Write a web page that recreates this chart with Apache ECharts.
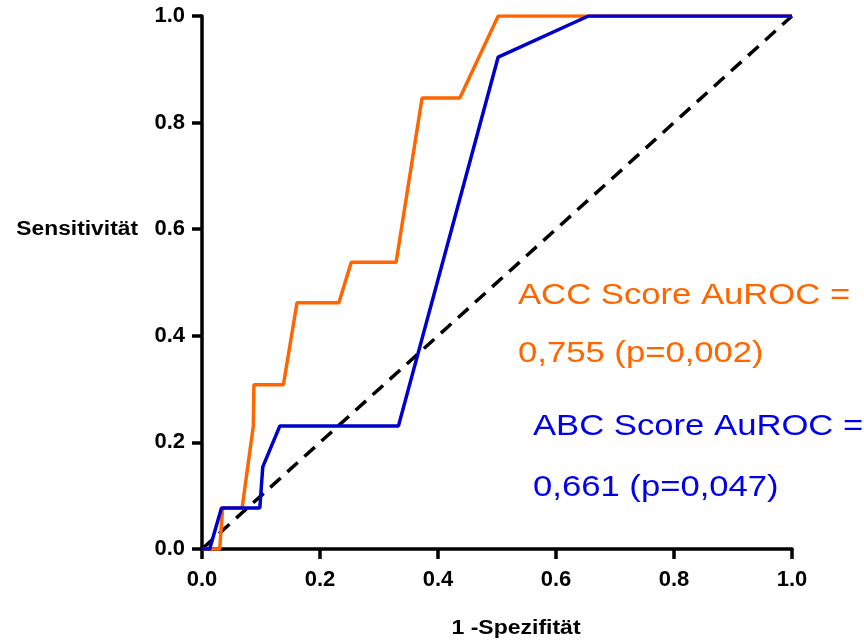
<!DOCTYPE html>
<html><head><meta charset="utf-8">
<script src="https://cdn.jsdelivr.net/npm/echarts@6/dist/echarts.min.js"></script>
<style>html,body{margin:0;padding:0;background:#fff}#c{width:864px;height:643px}</style>
</head><body><div id="c"></div>
<script>
// ACC Score ROC curve (1-Spezifität, Sensitivität)
const accX = [0, 0.030, 0.035, 0.068, 0.087, 0.088, 0.138, 0.161, 0.232, 0.253, 0.329, 0.373, 0.437, 0.502, 1.0];
const accY = [0, 0, 0.077, 0.077, 0.231, 0.308, 0.308, 0.462, 0.462, 0.538, 0.538, 0.846, 0.846, 1.0, 1.0];
// ABC Score ROC curve
const abcX = [0, 0.013, 0.033, 0.098, 0.103, 0.132, 0.333, 0.502, 0.655, 1.0];
const abcY = [0, 0, 0.077, 0.077, 0.154, 0.231, 0.231, 0.923, 1.0, 1.0];
// Reference diagonal
const refX = [0, 1];
const refY = [0, 1];
// Axis ticks
const tickValues = [0.0, 0.2, 0.4, 0.6, 0.8, 1.0];
const xAxisTitle = '1 -Spezifität';
const yAxisTitle = 'Sensitivität';
const accLabel = ['ACC Score AuROC =', '0,755 (p=0,002)'];
const abcLabel = ['ABC Score AuROC =', '0,661 (p=0,047)'];

const pairs = (xs, ys) => xs.map((x, i) => [x, ys[i]]);
const ORANGE = '#FF6600', BLUE = '#0000CC', BLUE_TXT = '#0000EE';
const axisFont = { fontFamily: 'Liberation Sans', fontWeight: 'bold', fontSize: 22, color: '#000' };

const chart = echarts.init(document.getElementById('c'), null, { renderer: 'canvas' });
const axisCommon = {
  type: 'value', min: tickValues[0], max: tickValues[tickValues.length - 1], interval: 0.2,
  splitLine: { show: false },
  axisLine: { show: true, onZero: false, lineStyle: { color: '#000', width: 3.5 } },
  axisTick: { show: true, length: 10, lineStyle: { color: '#000', width: 3.5 } },
  axisLabel: Object.assign({ formatter: v => v.toFixed(1) }, axisFont)
};
const txt = (x, y, s, color, size, weight, align, sx) => ({
  type: 'text', x: x, y: y, scaleX: sx || 1, z: 100,
  style: { text: s, fill: color, fontFamily: 'Liberation Sans', fontSize: size, fontWeight: weight || 'normal',
           align: align || 'left', verticalAlign: 'middle' }
});

chart.setOption({
  animation: false,
  backgroundColor: '#fff',
  grid: { left: 202, right: 72, top: 16, bottom: 94, containLabel: false },
  xAxis: Object.assign({}, axisCommon, {
    axisLabel: Object.assign({}, axisCommon.axisLabel, { margin: 20 })
  }),
  yAxis: Object.assign({}, axisCommon, {
    axisLabel: Object.assign({}, axisCommon.axisLabel, { margin: 17 })
  }),
  graphic: [
    txt(138, 229, yAxisTitle, '#000', 20, 'bold', 'right', 1.14),
    txt(516, 628, xAxisTitle, '#000', 20, 'bold', 'center', 1.15),
    txt(518, 296, accLabel[0], ORANGE, 30, 'normal', 'left', 1.155),
    txt(518, 354, accLabel[1], ORANGE, 30, 'normal', 'left', 1.155),
    txt(533, 427, abcLabel[0], BLUE_TXT, 30, 'normal', 'left', 1.155),
    txt(533, 488, abcLabel[1], BLUE_TXT, 30, 'normal', 'left', 1.155)
  ],
  series: [
    { type: 'line', data: pairs(refX, refY), symbol: 'none', z: 1,
      lineStyle: { color: '#000', width: 3.5, type: [14, 9] } },
    { type: 'line', data: pairs(accX, accY), symbol: 'none', z: 2,
      lineStyle: { color: ORANGE, width: 3.5 } },
    { type: 'line', data: pairs(abcX, abcY), symbol: 'none', z: 3,
      lineStyle: { color: BLUE, width: 3.5 } }
  ]
});
</script></body></html>
